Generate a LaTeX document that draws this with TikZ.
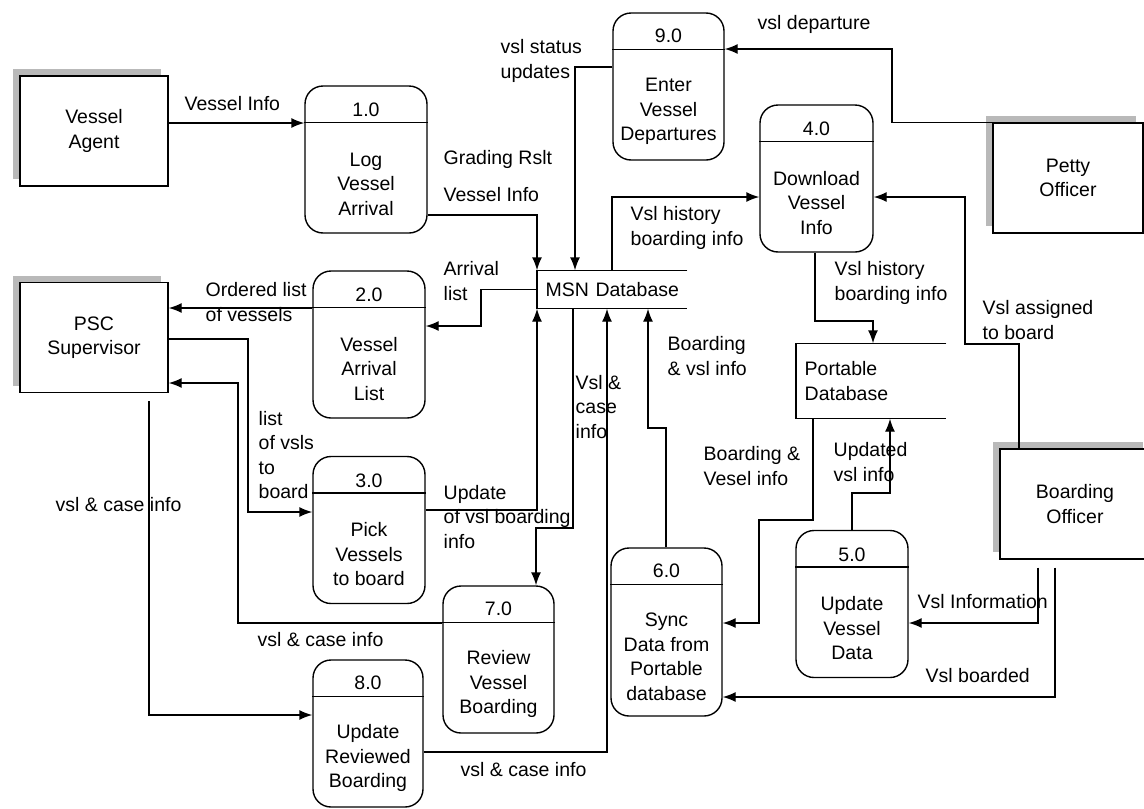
\documentclass[tikz,border=0pt]{standalone}
\usepackage{fontspec}
\setmainfont{Liberation Sans}
\usepackage{tikz}
\usetikzlibrary{arrows.meta,calc,shadows}

\tikzset{
  entity/.style={draw, fill=white, minimum width=148pt, minimum height=110pt, align=center,
    general shadow={fill=gray!55, shadow xshift=-7pt, shadow yshift=7pt}},
  proc/.style={draw, rounded corners=18pt, minimum width=112pt, minimum height=147pt, align=center, inner sep=0pt},
  store/.style={anchor=west, align=left, text width=133pt, inner xsep=8pt, inner ysep=0pt},
  lbl/.style={anchor=west, align=left, inner sep=0pt}
}

\begin{document}
\begin{tikzpicture}[x=1pt, y=-1pt, line width=1.4pt, >={Latex[length=13pt,width=10pt]},
    font=\fontsize{19.5}{24.5}\selectfont]
  \useasboundingbox (0,0) rectangle (1144,809);

  % Entita' esterne
  \node[entity] (va) at (94,131) {Vessel\\Agent};
  \node[entity] (psc) at (94,337.5) {PSC\\Supervisor};
  \node[entity, minimum width=150pt] (po) at (1068,178) {Petty\\Officer};
  \node[entity, minimum width=150pt] (bo) at (1075,504) {Boarding\\Officer};

  % Processi
  \node[proc, minimum width=122pt] (p1) at (366,159.5) {1.0\\[25pt]Log\\Vessel\\Arrival};
  \node[proc] (p2) at (369,344.5) {2.0\\[25pt]Vessel\\Arrival\\List};
  \node[proc] (p3) at (369,530) {3.0\\[25pt]Pick\\Vessels\\to board};
  \node[proc, minimum width=113pt] (p4) at (816.5,178.5) {4.0\\[25pt]Download\\Vessel\\Info};
  \node[proc] (p5) at (852,604) {5.0\\[25pt]Update\\Vessel\\Data};
  \node[proc, minimum width=111pt, minimum height=168pt] (p6) at (666.5,632) {6.0\\[25pt]Sync\\Data from\\Portable\\database};
  \node[proc, minimum width=111pt] (p7) at (498.5,659.5) {7.0\\[25pt]Review\\Vessel\\Boarding};
  \node[proc, minimum width=110pt] (p8) at (368,733.5) {8.0\\[25pt]Update\\Reviewed\\Boarding};
  \node[proc, minimum width=111pt] (p9) at (668.5,86.5) {9.0\\[25pt]Enter\\Vessel\\Departures};

  \draw ($(p1.north west)+(0,37)$) -- ($(p1.north east)+(0,37)$);
  \draw ($(p2.north west)+(0,37)$) -- ($(p2.north east)+(0,37)$);
  \draw ($(p3.north west)+(0,37)$) -- ($(p3.north east)+(0,37)$);
  \draw ($(p4.north west)+(0,37)$) -- ($(p4.north east)+(0,37)$);
  \draw ($(p5.north west)+(0,37)$) -- ($(p5.north east)+(0,37)$);
  \draw ($(p6.north west)+(0,37)$) -- ($(p6.north east)+(0,37)$);
  \draw ($(p7.north west)+(0,37)$) -- ($(p7.north east)+(0,37)$);
  \draw ($(p8.north west)+(0,37)$) -- ($(p8.north east)+(0,37)$);
  \draw ($(p9.north west)+(0,37)$) -- ($(p9.north east)+(0,37)$);

  % Archivi
  \node[store, minimum height=37pt] (msn) at (537,289.5) {\mbox{MSN Database}};
  \node[store, minimum height=74pt] (pdb) at (796,381) {Portable\\Database};
  \draw (msn.north east) -- (msn.north west) -- (msn.south west) -- (msn.south east);
  \draw (pdb.north east) -- (pdb.north west) -- (pdb.south west) -- (pdb.south east);

  % Etichette
  \node[lbl] (lva) at (184,104) {Vessel Info};
  \node[lbl] (lgr) at (443,159) {Grading Rslt};
  \node[lbl] (lvi) at (443,195) {Vessel Info};
  \node[lbl] (lst) at (500,61) {vsl status\\updates};
  \node[lbl] (ldep) at (757,24) {vsl departure};
  \node[lbl] (lhis) at (630,228) {Vsl history\\boarding info};
  \node[lbl] (larr) at (443,281) {Arrival\\list};
  \node[lbl] (lord) at (205,302) {Ordered list\\of vessels};
  \node[lbl] (lpick) at (258,455) {list\\of vsls\\to\\board};
  \node[lbl] (lrev) at (257,640) {vsl \& case info};
  \node[lbl] (lsup) at (55,505) {vsl \& case info};
  \node[lbl] (lupd) at (460,770) {vsl \& case info};
  \node[lbl] (lbrd) at (443,517) {Update\\of vsl boarding\\info};
  \node[lbl] (lcase) at (575,407) {Vsl \&\\case\\info};
  \node[lbl] (lsync) at (667,356) {Boarding\\\& vsl info};
  \node[lbl] (lhis2) at (834,283) {Vsl history\\boarding info};
  \node[lbl] (lves) at (703,466) {Boarding \&\\Vesel info};
  \node[lbl] (lupv) at (833,462) {Updated\\vsl info};
  \node[lbl] (lass) at (982,320) {Vsl assigned\\to board};
  \node[lbl] (linf) at (917,602) {Vsl Information};
  \node[lbl] (lbdd) at (925,676) {Vsl boarded};

  % Flussi
  \draw[->] (va.east |- 0,123) -- (p1.west |- 0,123);
  \draw[->] (p1.east |- 0,215) -| (msn.north west);
  \draw[->] (p9.west |- 0,67) -| (msn.north -| 575,0);
  \draw[->] (po.north west) -| (892,49) -- (p9.east |- 0,49);
  \draw[->] (msn.north -| 612,0) |- (p4.west |- 0,197);
  \draw[->] (msn.west) -| (481,326) -- (p2.east |- 0,326);
  \draw[->] (p2.west |- 0,308) -- (psc.east |- 0,308);
  \draw[->] (psc.east |- 0,339) -| (248,512) -- (p3.west |- 0,512);
  \draw[->] (p7.west |- 0,623) -| (238,383) -- (psc.east |- 0,383);
  \draw[->, shorten <=8pt] (psc.south -| 149,0) |- (p8.west |- 0,715);
  \draw[->] (p3.east |- 0,510) -| (msn.south west);
  \draw[->] (msn.south -| 573,0) |- (536,528) -- (p7.north -| 536,0);
  \draw[->] (p8.east |- 0,752) -| (msn.south -| 607,0);
  \draw[->] (p6.north -| 666,0) |- (648,428) -- (msn.south -| 648,0);
  \draw[->] (p4.south -| 815,0) |- (873,321) -- (pdb.north -| 873,0);
  \draw[->] (pdb.south -| 813,0) |- (759,520) |- (p6.east |- 0,623);
  \draw[->] (p5.north) |- (890,493) -- (pdb.south -| 890,0);
  \draw[->] (bo.north -| 1019,0) |- (965,344) |- (p4.east |- 0,197);
  \draw[->, shorten <=8pt] (bo.south -| 1038,0) |- (p5.east |- 0,623);
  \draw[->, shorten <=8pt] (bo.south -| 1055,0) |- (p6.east |- 0,697);
\end{tikzpicture}
\end{document}
